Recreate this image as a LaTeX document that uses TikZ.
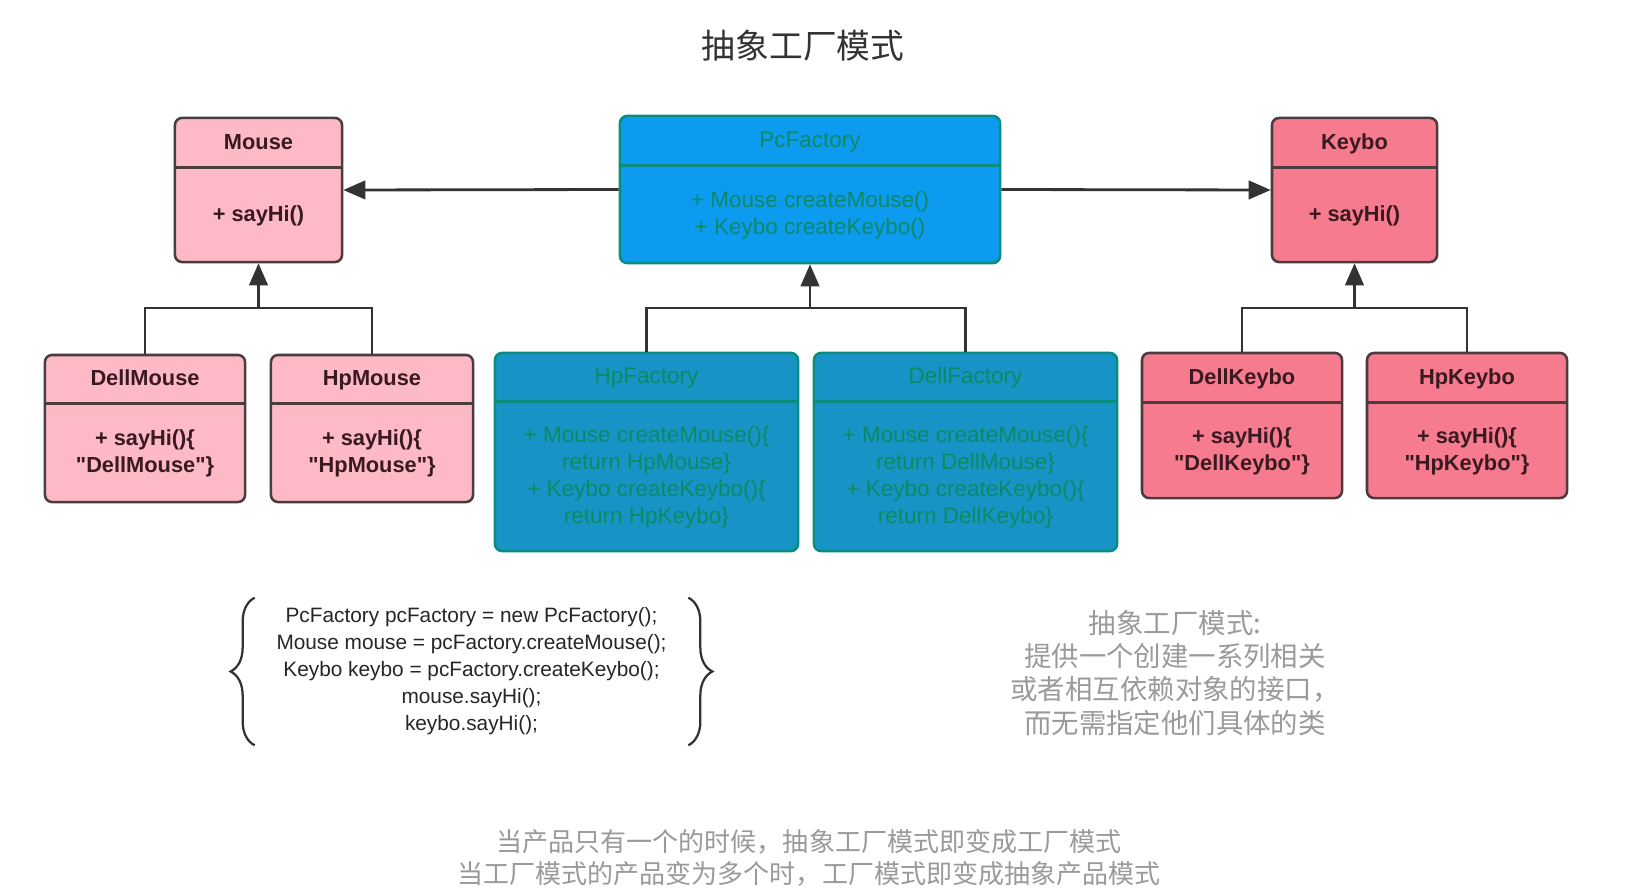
\documentclass[tikz,border=0pt]{standalone}
\usepackage{fontspec}
\setmainfont{Liberation Sans}[Ligatures=TeXOff]
\newfontfamily\cjk{Noto Sans CJK SC}
\usepackage{tikz}
\usetikzlibrary{positioning,calc,arrows.meta,decorations.pathreplacing}
\definecolor{MousePink}{HTML}{FDBAC6}
\definecolor{KeyboPink}{HTML}{F77B8F}
\definecolor{PcBlue}{HTML}{0C9BEF}
\definecolor{FactBlue}{HTML}{1893C5}
\definecolor{FactBorder}{HTML}{0A8C7E}
\definecolor{FactText}{HTML}{0D8A64}
\definecolor{BoxBorder}{HTML}{4A3C3F}
\definecolor{PinkText}{HTML}{3A1A20}
\definecolor{LineGray}{HTML}{333333}
\definecolor{NoteGray}{HTML}{9A9A9A}

\tikzset{
  cls/.style={draw=BoxBorder, line width=1.8pt, rounded corners=5pt, inner sep=0pt},
  mousecls/.style={cls, fill=MousePink},
  keybocls/.style={cls, fill=KeyboPink},
  pccls/.style={cls, draw=FactBorder, fill=PcBlue},
  factcls/.style={cls, draw=FactBorder, fill=FactBlue},
  mousecls line/.style={draw=BoxBorder, line width=1.8pt},
  keybocls line/.style={mousecls line},
  pccls line/.style={draw=FactBorder, line width=2pt},
  factcls line/.style={pccls line},
  mousecls text/.style={font=\fontsize{15.5}{19.2}\selectfont\bfseries, text=PinkText},
  keybocls text/.style={mousecls text},
  pccls text/.style={font=\fontsize{16}{19.2}\selectfont, text=FactText},
  factcls text/.style={pccls text},
  headline/.style={text height=1.02em, text depth=0em},
  link/.style={draw=LineGray, line width=2pt},
  gen/.style={link, -{Triangle[length=0.55cm,width=0.46cm]}},
  curly/.style={draw=LineGray, line width=1.6pt, decorate, decoration={brace, amplitude=0.6cm}},
}

% style, name, position, width, height, header height, title, body
\newcommand{\classbox}[8]{%
  \node[#1, minimum width=#4, minimum height=#5] (#2) at (#3) {};
  \draw[#1 line] ([yshift=-#6]#2.north west) -- ([yshift=-#6]#2.north east);
  \node[#1 text, headline] (#2-title) at ([yshift=-#6/2]#2.north) {#7};
  \node[#1 text, align=center] (#2-body) at ($(#2.south)!0.5!([yshift=-#6]#2.north)$) {#8};
}

\begin{document}
\begin{tikzpicture}[x=0.025cm, y=-0.025cm]
  \useasboundingbox[fill=white] (0,0) rectangle (1630,894);

  % Title
  \node[font=\cjk\fontsize{24}{28}\selectfont, text=LineGray] (title) at (803,46) {抽象工厂模式};

  % Factories
  \classbox{pccls}{pcfactory}{810,189.5}{9.5cm}{3.675cm}{1.275cm}{PcFactory}{+ Mouse createMouse()\\+ Keybo createKeybo()}
  \classbox{factcls}{hpfactory}{646.5,452}{7.575cm}{4.95cm}{1.25cm}{HpFactory}{+ Mouse createMouse()\{\\return HpMouse\}\\+ Keybo createKeybo()\{\\return HpKeybo\}}
  \classbox{factcls}{dellfactory}{965.5,452}{7.575cm}{4.95cm}{1.25cm}{DellFactory}{+ Mouse createMouse()\{\\return DellMouse\}\\+ Keybo createKeybo()\{\\return DellKeybo\}}

  % Mouse products
  \classbox{mousecls}{mouse}{258.5,190}{4.175cm}{3.6cm}{1.275cm}{Mouse}{+ sayHi()}
  \classbox{mousecls}{dellmouse}{145,428.5}{5cm}{3.675cm}{1.25cm}{DellMouse}{+ sayHi()\{\\"DellMouse"\}}
  \classbox{mousecls}{hpmouse}{372,428.5}{5.05cm}{3.675cm}{1.25cm}{HpMouse}{+ sayHi()\{\\"HpMouse"\}}

  % Keybo products
  \classbox{keybocls}{keybo}{1354.5,190}{4.125cm}{3.6cm}{1.275cm}{Keybo}{+ sayHi()}
  \classbox{keybocls}{dellkeybo}{1242,425.5}{5cm}{3.625cm}{1.275cm}{DellKeybo}{+ sayHi()\{\\"DellKeybo"\}}
  \classbox{keybocls}{hpkeybo}{1467,425.5}{5cm}{3.625cm}{1.275cm}{HpKeybo}{+ sayHi()\{\\"HpKeybo"\}}

  % Associations
  \draw[gen] (pcfactory.west) -- (mouse.east);
  \draw[gen] (pcfactory.east) -- (keybo.west);

  % Generalizations
  \coordinate (mousejoin) at (258.5,308);
  \coordinate (factjoin) at (810,308);
  \coordinate (keybojoin) at (1354.5,308);
  \draw[link] (dellmouse.north) |- (mousejoin) -| (hpmouse.north);
  \draw[gen] (mousejoin) -- (mouse.south);
  \draw[link] (hpfactory.north) |- (factjoin) -| (dellfactory.north);
  \draw[gen] (factjoin) -- (pcfactory.south);
  \draw[link] (dellkeybo.north) |- (keybojoin) -| (hpkeybo.north);
  \draw[gen] (keybojoin) -- (keybo.south);

  % Client code
  \node[minimum width=10.825cm, minimum height=3.675cm, inner sep=0pt, align=center,
        font=\fontsize{14.8}{19.2}\selectfont, text=black!85] (code) at (471.5,671.5)
    {PcFactory pcFactory = new PcFactory();\\Mouse mouse = pcFactory.createMouse();\\Keybo keybo = pcFactory.createKeybo();\\mouse.sayHi();\\keybo.sayHi();};
  \draw[curly] (code.south west) -- (code.north west);
  \draw[curly] (code.north east) -- (code.south east);

  % Notes
  \node[align=center, font=\cjk\fontsize{19.5}{23.5}\selectfont, text=NoteGray] (desc) at (1175,673)
    {抽象工厂模式:\\提供一个创建一系列相关\\或者相互依赖对象的接口，\\而无需指定他们具体的类};
  \node[align=center, font=\cjk\fontsize{18.5}{22.7}\selectfont, text=NoteGray] (note) at (809,858)
    {当产品只有一个的时候，抽象工厂模式即变成工厂模式\\当工厂模式的产品变为多个时，工厂模式即变成抽象产品模式};
\end{tikzpicture}
\end{document}
